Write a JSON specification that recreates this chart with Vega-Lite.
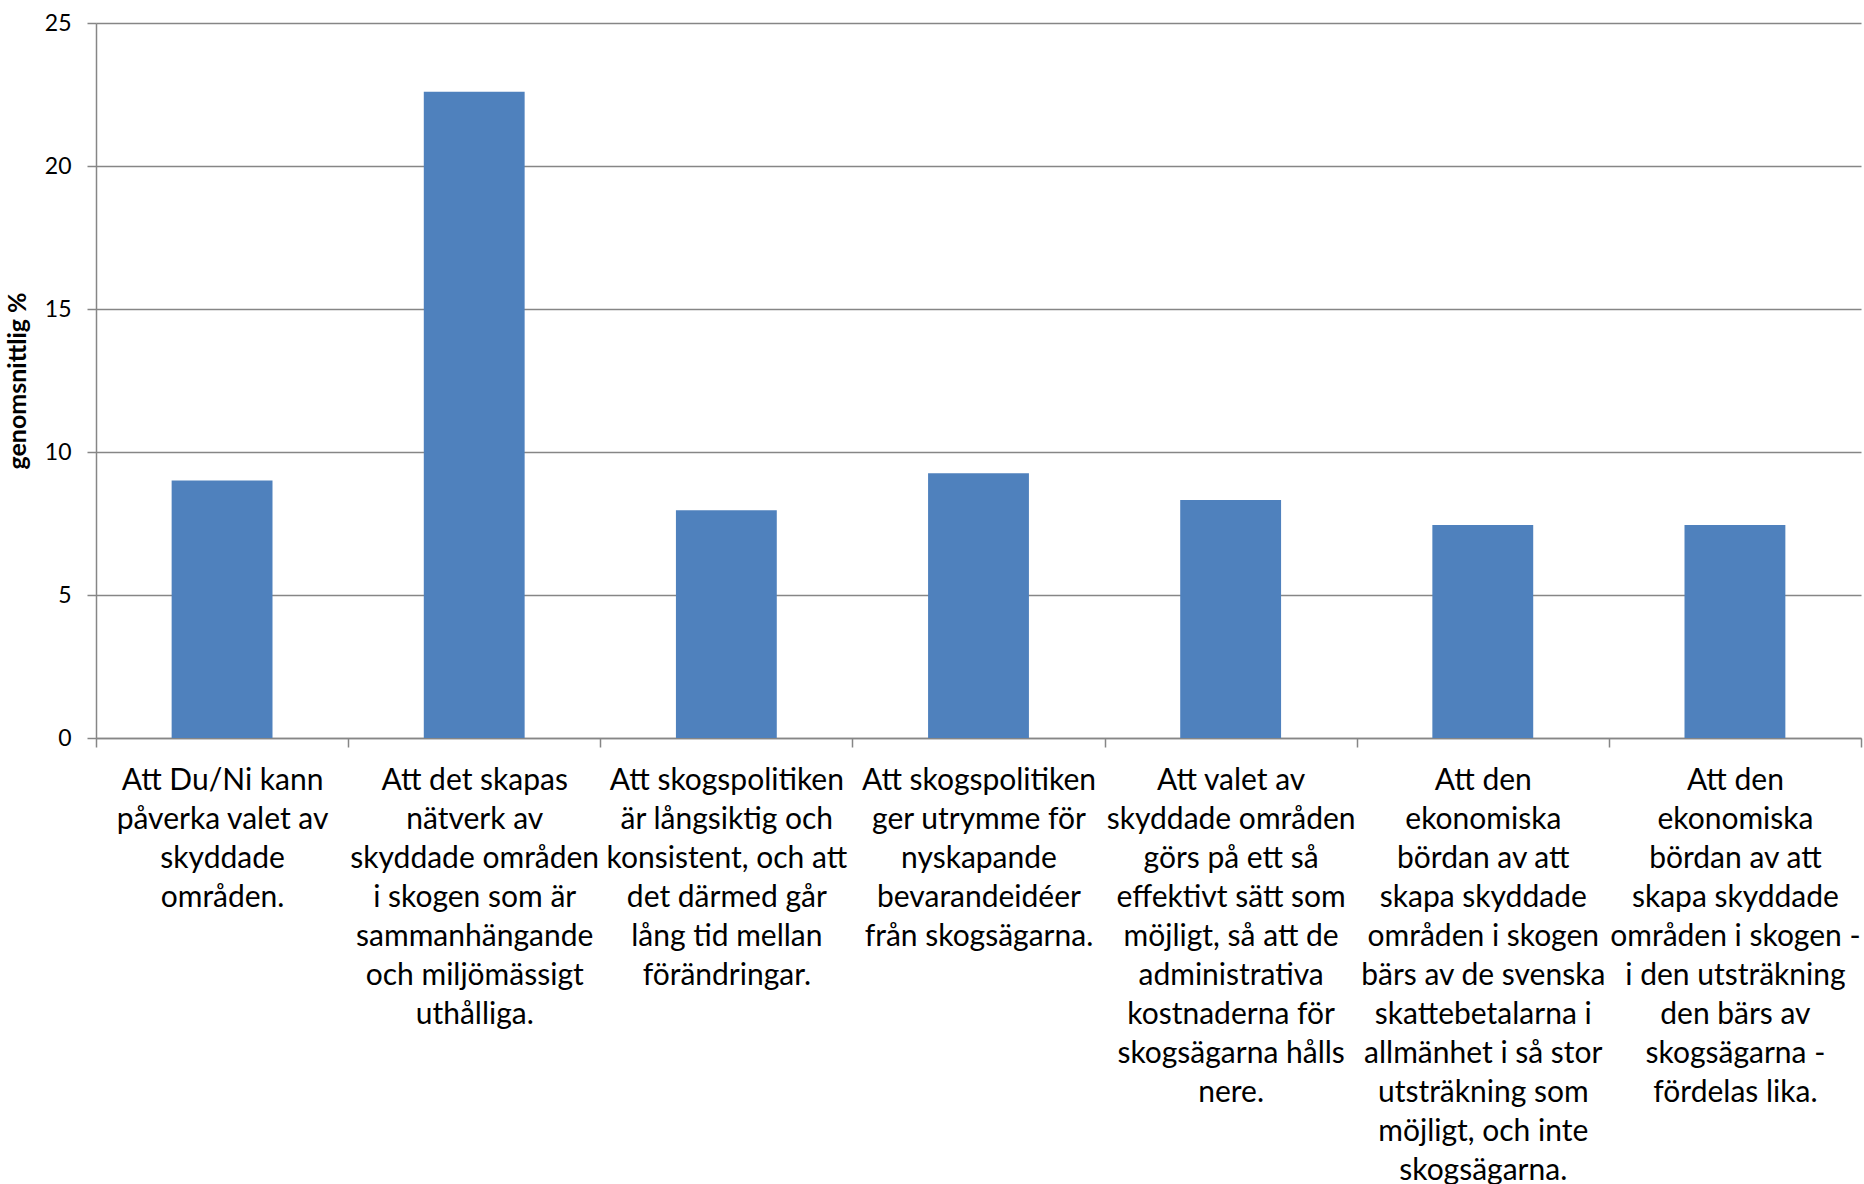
{
  "$schema": "https://vega.github.io/schema/vega-lite/v6.json",
  "autosize": {"type": "none"},
  "padding": {"left": 96, "top": 23, "right": 3, "bottom": 446},
  "width": 1765,
  "height": 715,
  "background": "white",
  "data": {
    "values": [
      {"kategori": "Att Du/Ni kann\npåverka valet av\nskyddade\nområden.", "genomsnitt": 9.0},
      {"kategori": "Att det skapas\nnätverk av\nskyddade områden\ni skogen som är\nsammanhängande\noch miljömässigt\nuthålliga.", "genomsnitt": 22.6},
      {"kategori": "Att skogspolitiken\när långsiktig och\nkonsistent, och att\ndet därmed går\nlång tid mellan\nförändringar.", "genomsnitt": 7.96},
      {"kategori": "Att skogspolitiken\nger utrymme för\nnyskapande\nbevarandeidéer\nfrån skogsägarna.", "genomsnitt": 9.26},
      {"kategori": "Att valet av\nskyddade områden\ngörs på ett så\neffektivt sätt som\nmöjligt, så att de\nadministrativa\nkostnaderna för\nskogsägarna hålls\nnere.", "genomsnitt": 8.32},
      {"kategori": "Att den\nekonomiska\nbördan av att\nskapa skyddade\nområden i skogen\nbärs av de svenska\nskattebetalarna i\nallmänhet i så stor\nutsträkning som\nmöjligt, och inte\nskogsägarna.", "genomsnitt": 7.45},
      {"kategori": "Att den\nekonomiska\nbördan av att\nskapa skyddade\nområden i skogen -\ni den utsträkning\nden bärs av\nskogsägarna -\nfördelas lika.", "genomsnitt": 7.45}
    ]
  },
  "mark": {"type": "bar", "color": "#4F81BD", "width": {"band": 0.4}},
  "encoding": {
    "x": {
      "field": "kategori",
      "type": "nominal",
      "sort": null,
      "scale": {"paddingInner": 0, "paddingOuter": 0},
      "axis": {
        "title": null,
        "labelAngle": 0,
        "labelAlign": "center",
        "labelBaseline": "top",
        "labelExpr": "split(datum.label, '\\n')",
        "labelLineHeight": 39,
        "labelFont": "Lato",
        "labelFontSize": 30,
        "labelColor": "#000000",
        "labelPadding": 18,
        "labelOverlap": false,
        "labelBound": false,
        "labelLimit": 0,
        "tickBand": "extent",
        "tickSize": 9,
        "tickColor": "#868686",
        "tickWidth": 1.5,
        "domainColor": "#868686",
        "domainWidth": 1.5,
        "grid": false
      }
    },
    "y": {
      "field": "genomsnitt",
      "type": "quantitative",
      "scale": {"domain": [0, 25], "nice": false},
      "axis": {
        "title": "genomsnittlig %",
        "titleFont": "Lato",
        "titleFontSize": 25,
        "titleFontWeight": "bold",
        "titleColor": "#000000",
        "titlePadding": 14,
        "values": [0, 5, 10, 15, 20, 25],
        "labelFont": "Lato",
        "labelFontSize": 23,
        "labelColor": "#000000",
        "labelPadding": 16,
        "tickSize": 9,
        "tickColor": "#868686",
        "tickWidth": 1.5,
        "domainColor": "#868686",
        "domainWidth": 1.5,
        "grid": true,
        "gridColor": "#868686",
        "gridWidth": 1.5
      }
    }
  },
  "config": {
    "view": {"stroke": null}
  }
}
